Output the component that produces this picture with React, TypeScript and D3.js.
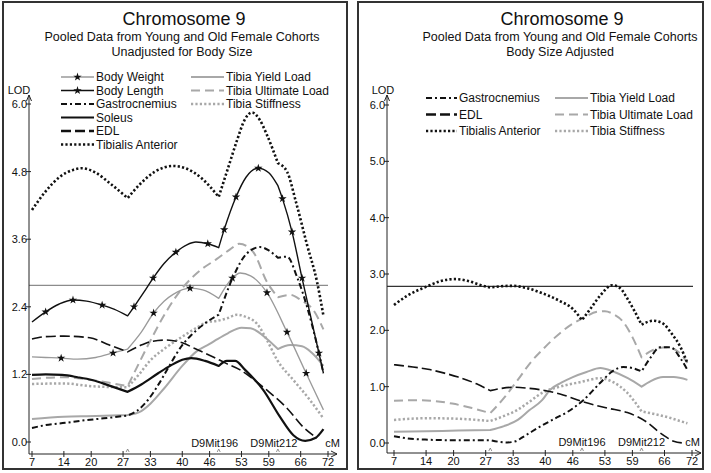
import React from "react";
import * as d3 from "d3";

// ---------- Data (cM, LOD) ----------
const xTickValues = [7, 14, 20, 27, 33, 40, 46, 53, 59, 66, 72];
const leftYTicks = [0, 1.2, 2.4, 3.6, 4.8, 6.0];
const rightYTicks = [0, 1, 2, 3, 4, 5, 6];
const markerNames = ["D9Mit196", "D9Mit212"];
const markerPositions = [48, 61];
const kinkPositions = [28, 48, 61];
const threshold = 2.78;

const leftBodyWeight: [number, number][] = [
  [7, 1.51], [10, 1.5], [13.4, 1.49], [17, 1.47], [21, 1.5], [24.8, 1.58], [28, 1.65],
  [31, 1.95], [33.7, 2.29], [36, 2.5], [38, 2.62], [41.7, 2.73], [44.5, 2.7], [48, 2.55],
  [51, 2.91], [52.7, 3.0], [55, 2.95], [58.6, 2.65], [63, 1.95], [67.2, 1.22], [71, 0.57],
];
const leftBodyWeightStars = [13.4, 24.8, 33.7, 41.7, 51, 58.6, 63, 67.2];

const leftBodyLength: [number, number][] = [
  [7, 2.13], [10, 2.31], [13, 2.45], [16, 2.52], [19, 2.5], [22.4, 2.43], [25, 2.36], [28, 2.24],
  [29.4, 2.4], [31.5, 2.65], [33.6, 2.91], [36, 3.17], [38.6, 3.37], [41, 3.5], [43, 3.55], [45.6, 3.52], [48, 3.45],
  [49.2, 3.77], [51.8, 4.35], [54, 4.7], [56.7, 4.86], [59, 4.78], [61, 4.55],
  [62, 4.32], [64.1, 3.73], [66.3, 2.91], [70, 1.58], [71, 1.22],
];
const leftBodyLengthStars = [10, 16, 22.4, 29.4, 33.6, 38.6, 45.6, 49.2, 51.8, 56.7, 62, 64.1, 66.3, 70];

const leftGastrocnemius: [number, number][] = [
  [7, 0.25], [10, 0.3], [14.3, 0.34], [18, 0.38], [21.5, 0.41], [25, 0.44], [28, 0.47],
  [30, 0.55], [32.5, 0.75], [35, 1.05], [37, 1.33], [40, 1.72], [42, 1.9], [45.4, 2.13], [48, 2.26],
  [51, 2.9], [54.2, 3.35], [57.1, 3.46], [59, 3.4], [61, 3.27],
  [63, 3.29], [65.2, 2.93], [67.4, 2.4], [69.6, 1.72], [71, 1.22],
];

const leftSoleus: [number, number][] = [
  [7, 1.19], [10, 1.2], [13.6, 1.19], [17, 1.15], [20.2, 1.1], [24, 1.0], [28, 0.89],
  [31, 1.02], [34.7, 1.22], [37.5, 1.36], [40, 1.46], [42, 1.49], [45, 1.44], [48, 1.35],
  [49.8, 1.44], [51.6, 1.44], [53.8, 1.28], [57.8, 0.92], [61.5, 0.44],
  [64.4, 0.12], [67, 0.02], [69.2, 0.07], [71, 0.23],
];

const leftEDL: [number, number][] = [
  [7, 1.83], [10, 1.87], [14, 1.88], [19.7, 1.85], [24, 1.72], [28, 1.6],
  [31, 1.72], [33, 1.78], [36.3, 1.81], [40, 1.76], [43, 1.65], [46.8, 1.51], [49.5, 1.4],
  [52.7, 1.28], [55.5, 1.12], [58.6, 0.92], [63, 0.6], [66.5, 0.27], [69.6, 0.07],
];

const leftTibialisAnterior: [number, number][] = [
  [7, 4.12], [10, 4.45], [13, 4.7], [16, 4.83], [18, 4.86], [21, 4.78], [24, 4.6], [28, 4.33],
  [31, 4.6], [34, 4.8], [38, 4.9], [41, 4.85], [44, 4.7], [48, 4.35],
  [50, 4.85], [52, 5.35], [53.7, 5.72], [55.3, 5.85], [57, 5.72], [58.6, 5.45], [61, 4.95],
  [63, 4.8], [65, 4.25], [67.4, 3.5], [69.6, 2.84], [71, 2.24],
];

const leftYieldLoad: [number, number][] = [
  [7, 0.41], [14, 0.45], [21, 0.46], [28, 0.48],
  [31, 0.55], [33, 0.68], [36, 0.95], [40, 1.35], [43, 1.6], [46, 1.74], [47.6, 1.82], [50, 1.93],
  [53, 2.03], [55, 2.02], [58.6, 1.83], [61, 1.65],
  [63.7, 1.72], [66.3, 1.7], [68.5, 1.58], [71, 1.35],
];

const leftUltimateLoad: [number, number][] = [
  [7, 1.12], [14, 1.15], [20, 1.1], [24, 1.05], [28, 0.99],
  [30.5, 1.4], [33, 1.8], [36.3, 2.29], [40, 2.73], [44, 3.05], [47.6, 3.25], [50.5, 3.42],
  [52.5, 3.52], [55.6, 3.37], [58.6, 2.84], [61, 2.57],
  [63.7, 2.61], [66, 2.52], [68.8, 2.34], [71, 2.0],
];

const leftStiffness: [number, number][] = [
  [7, 1.03], [14, 1.04], [20, 0.99], [28, 0.97],
  [30.5, 1.2], [33, 1.45], [36.5, 1.68], [40, 1.87], [43, 2.02], [45.6, 2.13], [47.6, 2.15],
  [50, 2.2], [52, 2.26], [54, 2.22], [56.4, 2.1], [58.6, 1.81], [60.8, 1.46], [64.4, 1.1],
  [68, 0.75], [70.8, 0.44],
];

const rightTibialisAnterior: [number, number][] = [
  [7, 2.45], [10, 2.62], [14.2, 2.78], [17, 2.87], [20.3, 2.91], [23, 2.88], [26, 2.8], [28, 2.76],
  [30, 2.78], [32.8, 2.79], [36, 2.75], [39.3, 2.66], [43.2, 2.52], [46, 2.38], [48, 2.18],
  [50, 2.4], [52, 2.62], [54.6, 2.8], [56.3, 2.75], [58, 2.55], [61, 2.1],
  [63.5, 2.17], [65.5, 2.13], [67.5, 1.95], [69.5, 1.7], [71, 1.42],
];

const rightEDL: [number, number][] = [
  [7, 1.39], [10, 1.36], [14.4, 1.31], [18, 1.24], [21, 1.17], [25, 1.05], [28, 0.93],
  [30.5, 0.97], [33.4, 0.99], [36.5, 0.97], [39.3, 0.94], [43.2, 0.87], [48.3, 0.73],
  [53.5, 0.62], [57.9, 0.54], [60, 0.47], [62.5, 0.35], [64.4, 0.22], [66.5, 0.1], [68, 0.03], [70, 0.0],
];

const rightGastrocnemius: [number, number][] = [
  [7, 0.12], [10, 0.08], [13.8, 0.06], [20, 0.05], [28, 0.05],
  [30, 0.02], [31.7, 0.01], [33.5, 0.03], [35, 0.1], [37, 0.2], [39.5, 0.32], [42, 0.43],
  [44.8, 0.55], [48.3, 0.76], [52, 1.07], [54.6, 1.27], [57, 1.35], [59, 1.33], [61, 1.27],
  [62.9, 1.51], [65, 1.7], [67.3, 1.7], [69.5, 1.5], [71, 1.3],
];

const rightYieldLoad: [number, number][] = [
  [7, 0.2], [14, 0.21], [21, 0.22], [28, 0.23],
  [31, 0.3], [34, 0.41], [36.5, 0.58], [39.3, 0.76], [41, 0.94], [43.5, 1.07], [46, 1.17],
  [49, 1.26], [52, 1.33], [54.8, 1.27], [58, 1.15], [61, 1.0],
  [63, 1.1], [65.7, 1.17], [68, 1.17], [71, 1.12],
];

const rightUltimateLoad: [number, number][] = [
  [7, 0.75], [11.6, 0.76], [15, 0.75], [19.7, 0.7], [24, 0.62], [28, 0.53],
  [31, 0.8], [34, 1.12], [37, 1.45], [39.3, 1.65], [43.2, 1.95], [46, 2.12], [48.3, 2.22],
  [51.3, 2.33], [53, 2.34], [55, 2.28], [57, 2.15], [59, 1.88], [61, 1.52],
  [63.5, 1.65], [66.6, 1.7], [69, 1.62], [71, 1.42],
];

const rightStiffness: [number, number][] = [
  [7, 0.41], [14.4, 0.44], [21, 0.43], [28, 0.39],
  [31, 0.48], [34, 0.59], [36.5, 0.73], [39.3, 0.89], [43.2, 1.0], [47.6, 1.08], [52, 1.15],
  [54.8, 1.08], [57.9, 0.89], [61, 0.56],
  [63.5, 0.52], [66.6, 0.46], [69, 0.4], [71, 0.35],
];

// ---------- Styles ----------
type Style = { stroke: string; width: number; dash?: string; legendWidth?: number };
const STY: Record<string, Style> = {
  bodyWeight: { stroke: "#9a9a9a", width: 1.3 },
  bodyLength: { stroke: "#111", width: 1.4 },
  gastro: { stroke: "#111", width: 2, dash: "6 3 2 3" },
  soleus: { stroke: "#111", width: 2.2 },
  edl: { stroke: "#111", width: 1.6, dash: "10 4", legendWidth: 2.4 },
  ta: { stroke: "#111", width: 2.6, dash: "2.2 2.2" },
  yieldL: { stroke: "#a8a8a8", width: 2 },
  ultL: { stroke: "#a8a8a8", width: 2, dash: "9 5" },
  stiff: { stroke: "#a8a8a8", width: 2.5, dash: "2.2 2.2" },
};

type Series = { name: string; data: [number, number][]; style: Style; stars?: number[] };

const leftSeries: Series[] = [
  { name: "Tibia Yield Load", data: leftYieldLoad, style: STY.yieldL },
  { name: "Tibia Ultimate Load", data: leftUltimateLoad, style: STY.ultL },
  { name: "Tibia Stiffness", data: leftStiffness, style: STY.stiff },
  { name: "Body Weight", data: leftBodyWeight, style: STY.bodyWeight, stars: leftBodyWeightStars },
  { name: "Gastrocnemius", data: leftGastrocnemius, style: STY.gastro },
  { name: "Soleus", data: leftSoleus, style: STY.soleus },
  { name: "EDL", data: leftEDL, style: STY.edl },
  { name: "Body Length", data: leftBodyLength, style: STY.bodyLength, stars: leftBodyLengthStars },
  { name: "Tibialis Anterior", data: leftTibialisAnterior, style: STY.ta },
];

const rightSeries: Series[] = [
  { name: "Tibia Yield Load", data: rightYieldLoad, style: STY.yieldL },
  { name: "Tibia Ultimate Load", data: rightUltimateLoad, style: STY.ultL },
  { name: "Tibia Stiffness", data: rightStiffness, style: STY.stiff },
  { name: "Gastrocnemius", data: rightGastrocnemius, style: STY.gastro },
  { name: "EDL", data: rightEDL, style: STY.edl },
  { name: "Tibialis Anterior", data: rightTibialisAnterior, style: STY.ta },
];

const leftLegendCol1 = ["Body Weight", "Body Length", "Gastrocnemius", "Soleus", "EDL", "Tibialis Anterior"];
const leftLegendCol2 = ["Tibia Yield Load", "Tibia Ultimate Load", "Tibia Stiffness"];
const rightLegendCol1 = ["Gastrocnemius", "EDL", "Tibialis Anterior"];
const rightLegendCol2 = ["Tibia Yield Load", "Tibia Ultimate Load", "Tibia Stiffness"];

const legendStyle: Record<string, Style & { star?: boolean }> = {
  "Body Weight": { ...STY.bodyWeight, star: true },
  "Body Length": { ...STY.bodyLength, star: true },
  Gastrocnemius: STY.gastro,
  Soleus: STY.soleus,
  EDL: STY.edl,
  "Tibialis Anterior": STY.ta,
  "Tibia Yield Load": STY.yieldL,
  "Tibia Ultimate Load": STY.ultL,
  "Tibia Stiffness": STY.stiff,
};

const FONT = "'Liberation Sans', Arial, Helvetica, sans-serif";
const starPath = d3.symbol().type(d3.symbolStar).size(22)() as string;

function buildPath(points: [number, number][], xs: any, ys: any) {
  const segs: [number, number][][] = [];
  let cur: [number, number][] = [];
  points.forEach((p, i) => {
    cur.push(p);
    if (i > 0 && i < points.length - 1 && kinkPositions.includes(p[0])) {
      segs.push(cur);
      cur = [p];
    }
  });
  segs.push(cur);
  const line = d3
    .line<[number, number]>()
    .x((d) => xs(d[0]))
    .y((d) => ys(d[1]))
    .curve(d3.curveMonotoneX);
  return segs
    .map((s, i) => {
      const d = line(s) || "";
      return i === 0 ? d : d.replace(/^M/, "L");
    })
    .join("");
}

type PanelProps = {
  frame: [number, number, number, number];
  titleX: number;
  subX: number;
  subtitle: string;
  xRange: [number, number];
  yRange: [number, number];
  axisX: number;
  axisY: number;
  axisEnd: number;
  yTop: number;
  yTicks: number[];
  series: Series[];
  thrEnd: number;
  thrColor: string;
  legend: { col1: string[]; col2: string[]; x1: number; x2: number; y0: number; dy: number; len1: number; len2: number };
  lodX: number;
  markerShift: number;
  cmX: number;
};

function Panel(p: PanelProps) {
  const xs = d3.scaleLinear().domain([7, 72]).range(p.xRange);
  const ys = d3.scaleLinear().domain([0, 6]).range(p.yRange);
  const [fx, fy, fw, fh] = p.frame;

  const legendItem = (name: string, x: number, y: number, len: number) => {
    const st = legendStyle[name];
    return (
      <g key={name}>
        <line
          x1={x}
          x2={x + len}
          y1={y}
          y2={y}
          stroke={st.stroke}
          strokeWidth={st.legendWidth ?? st.width}
          strokeDasharray={st.dash}
        />
        {st.star && <path d={starPath} transform={`translate(${x + len / 2},${y})`} fill="#111" />}
        <text x={x + len + 2} y={y + 4.3} fontSize={12} fontFamily={FONT} fill="#111">
          {name}
        </text>
      </g>
    );
  };

  return (
    <g>
      <rect x={fx} y={fy} width={fw} height={fh} fill="#fff" stroke="#333" strokeWidth={2} />
      <text x={p.titleX} y={25} textAnchor="middle" fontSize={18} fontFamily={FONT} fill="#111">
        Chromosome 9
      </text>
      <text x={p.subX} y={41} textAnchor="middle" fontSize={12.5} fontFamily={FONT} fill="#111">
        Pooled Data from Young and Old Female Cohorts
      </text>
      <text x={p.subX} y={56} textAnchor="middle" fontSize={12.5} fontFamily={FONT} fill="#111">
        {p.subtitle}
      </text>

      {/* legend */}
      {p.legend.col1.map((n, i) => legendItem(n, p.legend.x1, p.legend.y0 + i * p.legend.dy, p.legend.len1))}
      {p.legend.col2.map((n, i) => legendItem(n, p.legend.x2, p.legend.y0 + i * p.legend.dy, p.legend.len2))}

      {/* threshold */}
      <line x1={p.axisX} x2={p.thrEnd} y1={ys(threshold)} y2={ys(threshold)} stroke={p.thrColor} strokeWidth={1.2} />

      {/* series */}
      {p.series.map((s) => (
        <path
          key={s.name}
          d={buildPath(s.data, xs, ys)}
          fill="none"
          stroke={s.style.stroke}
          strokeWidth={s.style.width}
          strokeDasharray={s.style.dash}
          strokeLinejoin="round"
        />
      ))}
      {p.series.map((s) =>
        (s.stars || []).map((c) => {
          const pt = s.data.find((d) => d[0] === c);
          if (!pt) return null;
          return <path key={s.name + c} d={starPath} transform={`translate(${xs(pt[0])},${ys(pt[1])})`} fill="#111" />;
        })
      )}

      {/* y axis */}
      <line x1={p.axisX} x2={p.axisX} y1={p.axisY} y2={p.yTop} stroke="#222" strokeWidth={1} />
      <path
        d={`M${p.axisX - 2.5},${p.yTop + 6} L${p.axisX},${p.yTop} L${p.axisX + 2.5},${p.yTop + 6}`}
        fill="none"
        stroke="#222"
        strokeWidth={1}
      />
      {p.yTicks.map((t) => (
        <g key={t}>
          <line x1={p.axisX - 3} x2={p.axisX + 2} y1={ys(t)} y2={ys(t)} stroke="#222" strokeWidth={1} />
          <text x={p.axisX - 2} y={ys(t) + 4} textAnchor="end" fontSize={11} fontFamily={FONT} fill="#111">
            {t.toFixed(1)}
          </text>
        </g>
      ))}
      <text x={p.lodX} y={94} textAnchor="middle" fontSize={11} fontFamily={FONT} fill="#111">
        LOD
      </text>

      {/* x axis */}
      <line x1={p.axisX} x2={p.axisEnd} y1={p.axisY} y2={p.axisY} stroke="#222" strokeWidth={1} />
      <path
        d={`M${p.axisEnd - 6},${p.axisY - 3} L${p.axisEnd},${p.axisY} L${p.axisEnd - 6},${p.axisY + 3}`}
        fill="none"
        stroke="#222"
        strokeWidth={1}
      />
      {xTickValues.map((t) => (
        <g key={t}>
          <line x1={xs(t)} x2={xs(t)} y1={p.axisY - 3} y2={p.axisY + 3} stroke="#222" strokeWidth={1} />
          <text x={xs(t)} y={p.axisY + 12} textAnchor="middle" fontSize={11} fontFamily={FONT} fill="#111">
            {t}
          </text>
        </g>
      ))}
      {kinkPositions.map((m) => (
        <path
          key={m}
          d={`M${xs(m) - 1.5},${p.axisY - 2} L${xs(m)},${p.axisY - 5} L${xs(m) + 1.5},${p.axisY - 2}`}
          fill="none"
          stroke="#777"
          strokeWidth={0.8}
        />
      ))}
      {markerNames.map((n, i) => (
        <text
          key={n}
          x={xs(markerPositions[i]) + p.markerShift}
          y={p.axisY - 7}
          textAnchor="middle"
          fontSize={11}
          fontFamily={FONT}
          fill="#111"
        >
          {n}
        </text>
      ))}
      <text x={p.cmX} y={p.axisY - 7} textAnchor="end" fontSize={11} fontFamily={FONT} fill="#111">
        cM
      </text>
    </g>
  );
}

export default function App() {
  return (
    <svg
      width={711}
      height={473}
      viewBox="0 0 711 473"
      style={{ position: "absolute", left: 0, top: 0, background: "#fff" }}
    >
      <rect x={0} y={0} width={711} height={473} fill="#fff" />
      <Panel
        frame={[3, 2, 344, 467]}
        titleX={184}
        subX={182}
        subtitle="Unadjusted for Body Size"
        xRange={[32, 328]}
        yRange={[442, 104]}
        axisX={29}
        axisY={454}
        axisEnd={337}
        yTop={95}
        yTicks={leftYTicks}
        series={leftSeries}
        thrEnd={328}
        thrColor="#8c8c8c"
        legend={{ col1: leftLegendCol1, col2: leftLegendCol2, x1: 61, x2: 191, y0: 77, dy: 13.5, len1: 33, len2: 33 }}
        lodX={19}
        markerShift={-4}
        cmX={340}
      />
      <Panel
        frame={[358, 2, 345, 467]}
        titleX={562}
        subX={560}
        subtitle="Body Size Adjusted"
        xRange={[394, 692]}
        yRange={[443, 105]}
        axisX={387}
        axisY={453}
        axisEnd={701}
        yTop={95}
        yTicks={rightYTicks}
        series={rightSeries}
        thrEnd={693}
        thrColor="#333"
        legend={{ col1: rightLegendCol1, col2: rightLegendCol2, x1: 426, x2: 555, y0: 98, dy: 16.5, len1: 31, len2: 33 }}
        lodX={383}
        markerShift={0}
        cmX={700}
      />
    </svg>
  );
}
